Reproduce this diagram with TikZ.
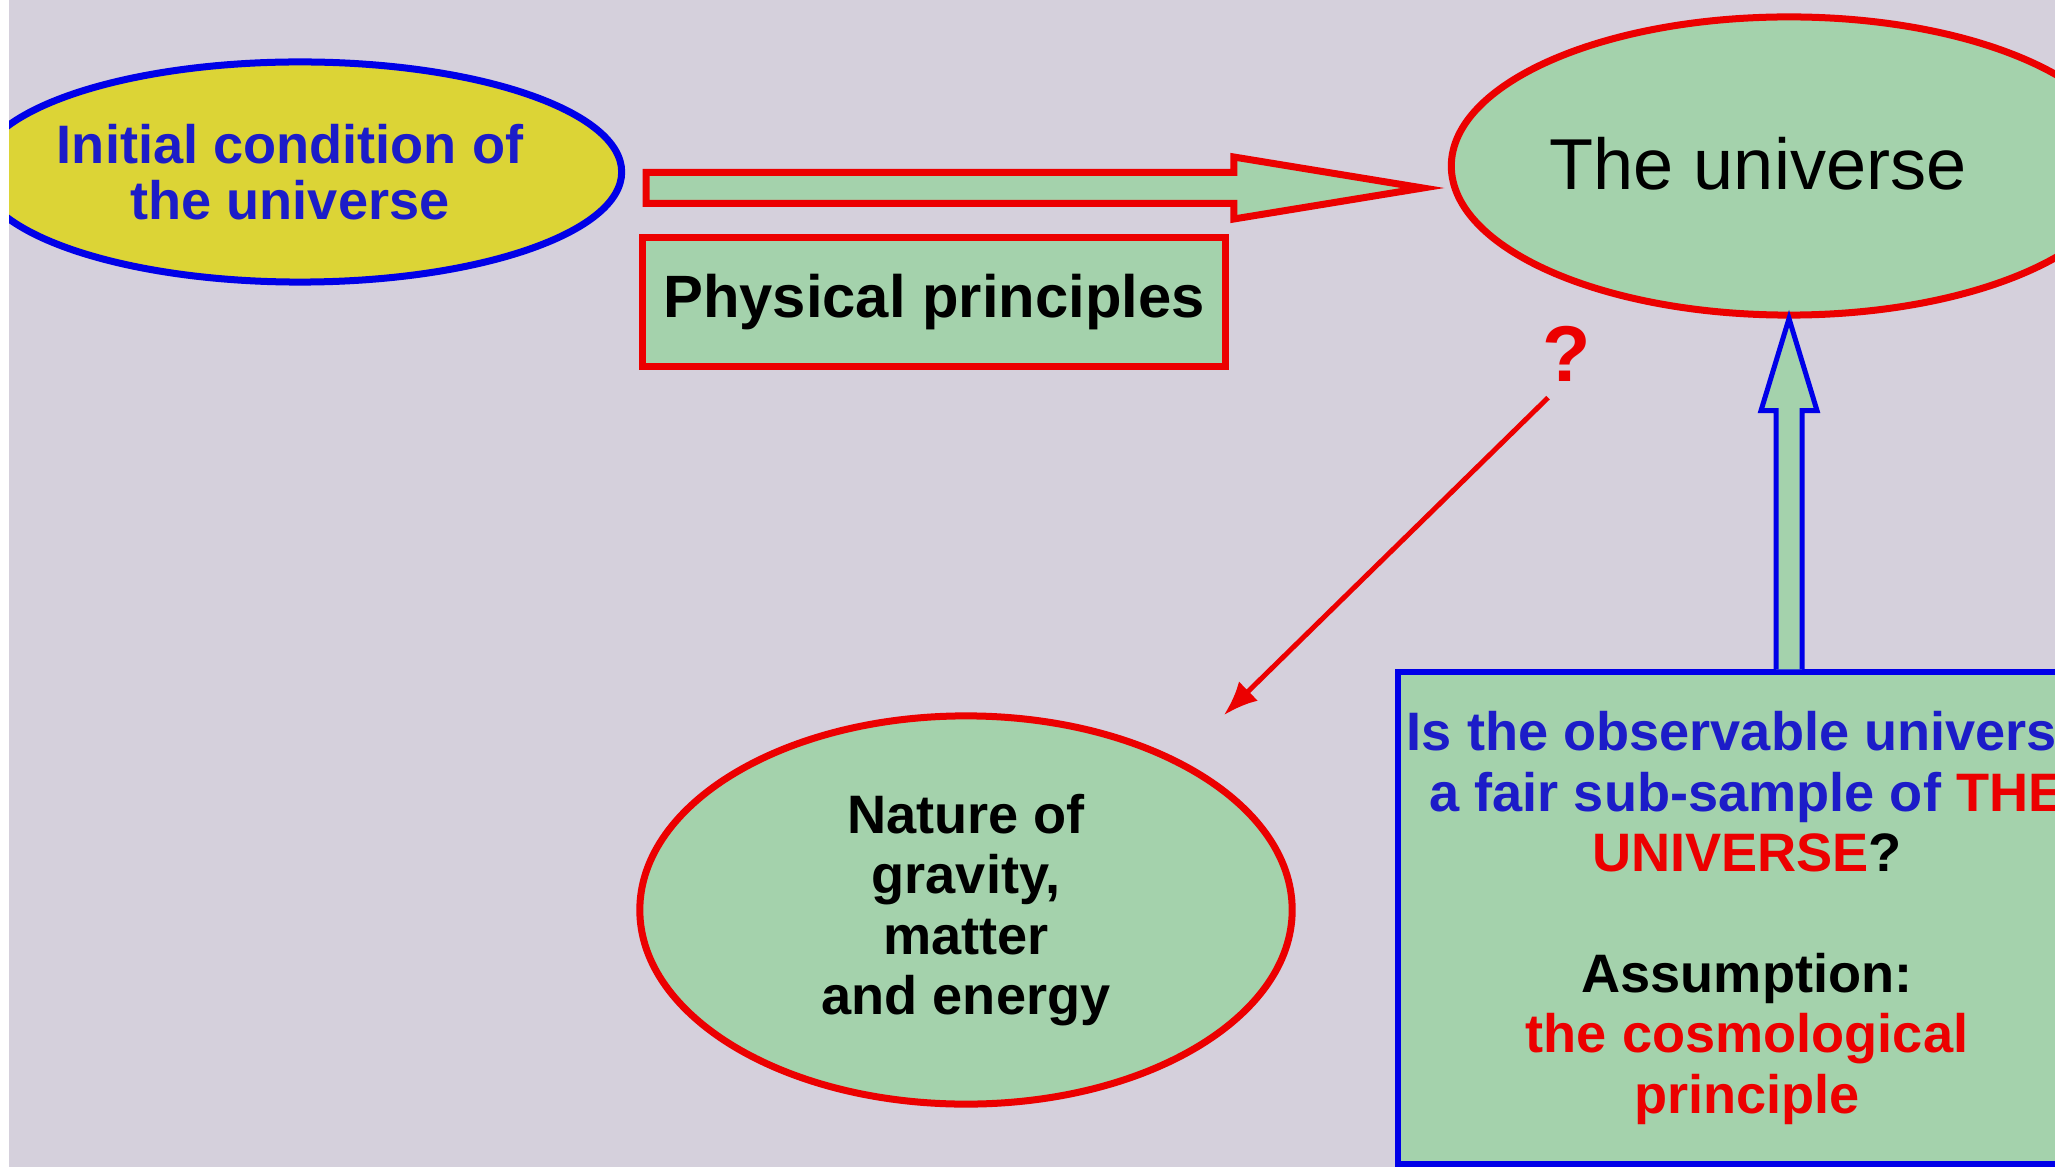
\documentclass[tikz,border=0pt]{standalone}
\usepackage{fontspec}
\setmainfont{Liberation Sans}
\usetikzlibrary{arrows.meta,positioning,calc,shapes.geometric}
\definecolor{FondoGris}{RGB}{213,208,220}
\definecolor{VerdeClaro}{RGB}{164,210,172}
\definecolor{AmarilloIni}{RGB}{220,212,54}
\definecolor{RojoFuerte}{RGB}{236,0,0}
\definecolor{AzulFuerte}{RGB}{0,0,232}
\definecolor{AzulTexto}{RGB}{28,28,200}
\colorlet{fondo}{FondoGris}
\colorlet{verde}{VerdeClaro}
\colorlet{amarillo}{AmarilloIni}
\colorlet{rojo}{RojoFuerte}
\colorlet{azul}{AzulFuerte}

\begin{document}
\begin{tikzpicture}[x=0.01cm,y=-0.01cm,
    elipse/.style={ellipse,draw=rojo,line width=0.07cm,fill=verde,inner sep=0pt},
    caja/.style={rectangle,draw=rojo,line width=0.07cm,fill=verde,inner sep=0pt},
    texto/.style={font=\bfseries\fontsize{15.4}{17.2}\selectfont,align=center,inner sep=0pt},
    flecha/.style={line width=0.07cm,line join=miter,fill=verde}]
  \useasboundingbox (0,0) rectangle (2055,1167);
  \fill[white] (0,0) rectangle (2055,1167);
  \begin{scope}
    \clip (9,0) rectangle (2055,1167);
    \fill[fondo] (9,0) rectangle (2055,1167);
    % elipses y cajas
    \node[elipse,draw=azul,fill=amarillo,minimum width=6.43cm,minimum height=2.2cm] (inicial) at (300,172) {};
    \node[texto,text=AzulTexto,font=\bfseries\fontsize{15.4}{16}\selectfont] (inicialtxt) at (290,172) {Initial condition of\\the universe};
    \node[elipse,minimum width=6.75cm,minimum height=2.98cm] (universo) at (1789,166) {};
    \node[inner sep=0pt,anchor=base,font=\fontsize{20.5}{24}\selectfont] (universotxt) at (1758,190) {The universe};
    \node[caja,texto,font=\bfseries\fontsize{17}{20}\selectfont,minimum width=5.83cm,minimum height=1.28cm] (principios) at (934,302) {Physical principles};
    \node[elipse,texto,minimum width=6.52cm,minimum height=3.88cm] (naturaleza) at (966,910) {Nature of\\gravity,\\matter\\and energy};
    \node[caja,texto,draw=azul,line width=0.06cm,text=AzulTexto,minimum width=6.98cm,minimum height=4.91cm] (supuesto) at (1747,918) {Is the observable universe\\a fair sub-sample of \textcolor{rojo}{THE}\\\textcolor{rojo}{UNIVERSE}\textcolor{black}{?}\\[17.2pt]\textcolor{black}{Assumption:}\\\textcolor{rojo}{the cosmological}\\\textcolor{rojo}{principle}};
    \node[inner sep=0pt,anchor=base,text=rojo,font=\bfseries\fontsize{22.5}{26}\selectfont] (interroga) at (1567,382) {?};
    % flechas
    \coordinate (colaroja) at ($(inicial.east)+(21,16)$);
    \coordinate (puntaroja) at ($(universo.west)+(-25,22)$);
    \draw[flecha,draw=rojo] ($(colaroja)+(0,-15.5)$) -- ($(puntaroja)+(-189,-15.5)$) -- ($(puntaroja)+(-189,-31)$)
      -- (puntaroja) -- ($(puntaroja)+(-189,31)$) -- ($(puntaroja)+(-189,15.5)$) -- ($(colaroja)+(0,15.5)$) -- cycle;
    \coordinate (baseazul) at (supuesto.north -| universo.south);
    \draw[flecha,draw=azul,line width=0.05cm] ($(baseazul)+(-13,0)$) -- ($(universo.south)+(-13,92)$) -- ($(universo.south)+(-28,92)$)
      -- (universo.south) -- ($(universo.south)+(28,92)$) -- ($(universo.south)+(13,92)$) -- ($(baseazul)+(13,0)$);
    \coordinate (finpregunta) at (1224,715);
    \draw[rojo,line width=0.05cm,-{Latex[length=0.34cm,width=0.27cm]}] ($(interroga.south)+(-19,15)$) -- (finpregunta);
  \end{scope}
\end{tikzpicture}
\end{document}
